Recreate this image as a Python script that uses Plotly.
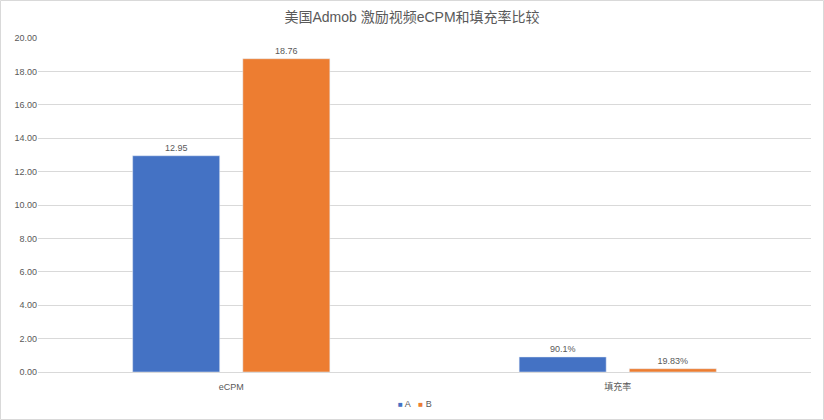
import plotly.graph_objects as go

categories = ["eCPM", "填充率"]
series_a = [12.95, 0.901]
series_b = [18.76, 0.1983]
labels_a = ["12.95", "90.1%"]
labels_b = ["18.76", "19.83%"]
series_names = ["A", "B"]
tick_vals = [0, 2, 4, 6, 8, 10, 12, 14, 16, 18, 20]
tick_text = ["0.00", "2.00", "4.00", "6.00", "8.00", "10.00", "12.00", "14.00", "16.00", "18.00", "20.00"]

W, H = 824, 420
ml, mr, mt, mb = 38, 13, 38, 48
font_family = "Liberation Sans, Noto Sans CJK SC, sans-serif"
grey = "#595959"
colors = ["#4472C4", "#ED7D31"]

fig = go.Figure()
fig.add_trace(go.Bar(name=series_names[0], x=categories, y=series_a, text=labels_a, textposition="outside",
                     marker_color=colors[0], textfont=dict(size=9, color=grey), cliponaxis=False))
fig.add_trace(go.Bar(name=series_names[1], x=categories, y=series_b, text=labels_b, textposition="outside",
                     marker_color=colors[1], textfont=dict(size=9, color=grey), cliponaxis=False))

pw = W - ml - mr
ph = H - mt - mb
fig.add_shape(type="rect", xref="paper", yref="paper",
              x0=(0.5 - ml) / pw, x1=(W - 0.5 - ml) / pw,
              y0=-(H - 0.5 - mt - ph) / ph, y1=(ph + mt - 0.5) / ph,
              line=dict(color="#D9D9D9", width=1), layer="below")

legend_text = (f"<span style='color:{colors[0]};font-size:8px'>■</span> {series_names[0]}"
               f"&nbsp;&nbsp;&nbsp;<span style='color:{colors[1]};font-size:8px'>■</span> {series_names[1]}")
fig.add_annotation(text=legend_text, xref="paper", yref="paper", x=(415 - ml) / pw, y=-(404 - mt - ph) / ph,
                   xanchor="center", yanchor="middle", showarrow=False, font=dict(size=9, color=grey))

fig.update_layout(
    width=W, height=H,
    margin=dict(l=ml, r=mr, t=mt, b=mb, autoexpand=False),
    paper_bgcolor="white", plot_bgcolor="white",
    font=dict(family=font_family, color=grey, size=9),
    title=dict(text="美国Admob 激励视频eCPM和填充率比较", x=0.5, xanchor="center", y=1 - 17 / H, yanchor="middle",
               font=dict(size=14, color=grey, family=font_family)),
    barmode="group", bargap=0.43, bargroupgap=0.21,
    showlegend=False,
    xaxis=dict(showline=True, linecolor="#D9D9D9", linewidth=1, ticks="", tickfont=dict(size=9, color=grey),
               automargin=False, ticklabelstandoff=6),
    yaxis=dict(range=[0, 20], tickvals=tick_vals, ticktext=tick_text, showgrid=True, gridcolor="#D9D9D9",
               gridwidth=1, zeroline=False, ticks="", tickfont=dict(size=9, color=grey), automargin=False),
)

fig.write_html("out.html")
